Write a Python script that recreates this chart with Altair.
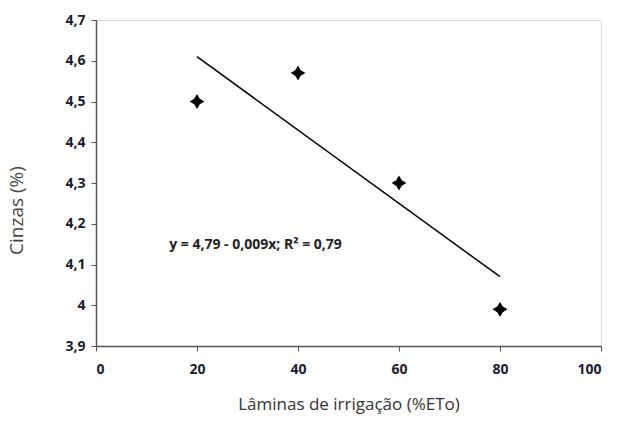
import altair as alt
import pandas as pd

laminas = [20, 40, 60, 80]
cinzas = [4.50, 4.57, 4.30, 3.99]

fit_x = [20, 80]
fit_y = [4.79 - 0.009 * v for v in fit_x]

eq_label = ["y = 4,79 - 0,009x;  R² = 0,79"]
eq_x = [14.5]
eq_y = [4.148]

pts = pd.DataFrame({"x": laminas, "y": cinzas})
fit = pd.DataFrame({"x": fit_x, "y": fit_y})
eq = pd.DataFrame({"x": eq_x, "y": eq_y, "t": eq_label})

xs = alt.Scale(domain=[0, 100], nice=False, zero=False)
ys = alt.Scale(domain=[3.9, 4.7], nice=False, zero=False)

xaxis = alt.Axis(values=[0, 20, 40, 60, 80, 100], grid=False,
                 labelFont="Open Sans", labelFontSize=14, labelFontWeight="bold",
                 labelColor="#1c1c30", labelPadding=11, tickSize=5,
                 domainColor="#555555", tickColor="#555555", domainWidth=1.5,
                 title="Lâminas de irrigação  (%ETo)", titleFont="Open Sans",
                 titleFontSize=17, titleFontWeight="normal", titleColor="#333333",
                 titlePadding=20)
yaxis = alt.Axis(values=[3.9, 4.0, 4.1, 4.2, 4.3, 4.4, 4.5, 4.6, 4.7], grid=False,
                 labelExpr="replace(format(datum.value, '.1~f'), '.', ',')",
                 labelFont="Open Sans", labelFontSize=14, labelFontWeight="bold",
                 labelColor="#1c1c30", labelPadding=6, tickSize=5,
                 domainColor="#555555", tickColor="#555555", domainWidth=1.5,
                 title="Cinzas (%)", titleFont="Open Sans", titleFontSize=19,
                 titleFontWeight="normal", titleColor="#444444",
                 titleX=-70, titleY=190, titleBaseline="bottom")

star = "M0,-1L0.38,-0.38L1,0L0.38,0.38L0,1L-0.38,0.38L-1,0L-0.38,-0.38Z"

points = alt.Chart(pts).mark_point(shape=star, filled=True, color="black",
                                   size=220, opacity=1).encode(
    x=alt.X("x:Q", scale=xs, axis=xaxis),
    y=alt.Y("y:Q", scale=ys, axis=yaxis),
)

line = alt.Chart(fit).mark_line(color="black", strokeWidth=1.5).encode(
    x=alt.X("x:Q", scale=xs), y=alt.Y("y:Q", scale=ys))

text = alt.Chart(eq).mark_text(align="left", baseline="middle", font="Open Sans",
                               fontSize=14, fontWeight="bold", color="#222222").encode(
    x=alt.X("x:Q", scale=xs), y=alt.Y("y:Q", scale=ys), text="t:N")

chart = alt.layer(line, points, text).properties(
    width=505, height=326,
    autosize=alt.AutoSizeParams(type="none"),
    padding={"left": 96, "top": 20, "right": 19, "bottom": 82},
).configure_view(stroke=None).configure(background="white")

chart.save("out.html", embed_options={"renderer": "svg", "actions": False})
